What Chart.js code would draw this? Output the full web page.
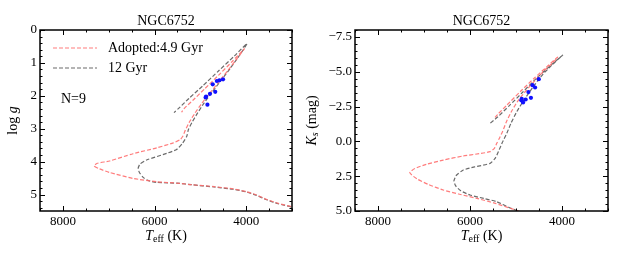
<!DOCTYPE html>
<html>
<head>
<meta charset="utf-8">
<script src="https://cdn.jsdelivr.net/npm/chart.js@4.4.1/dist/chart.umd.min.js"></script>
<style>
    body { margin: 0; background: #fff; width: 623px; height: 260px; position: relative; overflow: hidden; }
    canvas { position: absolute; top: 0; }
</style>
</head>
<body>
<canvas id="loggChart" width="300" height="260" style="left:0"></canvas>
<canvas id="ksChart" width="323" height="260" style="left:300px"></canvas>
<script>
// axis ticks
const teffTicks = [8000, 6000, 4000];
const loggTicks = [0, 1, 2, 3, 4, 5];
const ksTicks = [-7.5, -5.0, -2.5, 0.0, 2.5, 5.0];

// observed giants (N=9)
const starTeff = [4505, 4585, 4640, 4730, 4675, 4790, 4875, 4885, 4846];
const starLogg = [1.50, 1.53, 1.55, 1.65, 1.88, 1.94, 2.02, 2.05, 2.27];
const starKs = [-4.47, -3.87, -4.04, -3.54, -3.13, -3.01, -3.06, -2.95, -2.80];

// adopted 4.9 Gyr isochrone
const youngTeffG = [2900, 3000, 3300, 3550, 3800, 4000, 4280, 4700, 5200, 5450, 5950, 6470, 6980, 7200, 7320, 7250, 6980, 6470, 5950, 5590, 5440, 5380, 5330, 5240, 5120, 4980, 4800, 4600, 4400, 4200, 4040, 4300, 4600, 4900, 5150, 5350, 5410];
const youngLogg = [5.42, 5.37, 5.27, 5.15, 5.00, 4.91, 4.83, 4.76, 4.70, 4.66, 4.61, 4.51, 4.33, 4.22, 4.13, 4.05, 3.98, 3.76, 3.58, 3.43, 3.33, 3.22, 3.05, 2.80, 2.53, 2.25, 1.93, 1.58, 1.23, 0.87, 0.57, 0.95, 1.37, 1.78, 2.12, 2.38, 2.50];
const youngTeffK = [4700, 4947, 5128, 5450, 5854, 6250, 6582, 6900, 7150, 7309, 7200, 6950, 6582, 6150, 5800, 5564, 5470, 5418, 5350, 5287, 5210, 5090, 4950, 4780, 4580, 4380, 4200, 4096, 4300, 4600, 4900, 5200, 5380, 5455];
const youngKs = [5.45, 5.00, 4.80, 4.45, 4.09, 3.78, 3.49, 3.10, 2.70, 2.25, 1.95, 1.65, 1.34, 1.05, 0.88, 0.74, 0.50, 0.14, -0.30, -0.75, -1.40, -2.20, -2.95, -3.65, -4.40, -5.10, -5.65, -6.05, -5.45, -4.55, -3.60, -2.60, -2.00, -1.72];

// 12 Gyr isochrone
const oldTeffG = [2900, 3000, 3300, 3550, 3800, 4000, 4280, 4700, 5200, 5450, 5955, 6150, 6248, 6330, 6357, 6321, 6174, 5736, 5517, 5385, 5297, 5262, 5180, 5060, 4920, 4740, 4540, 4340, 4140, 3985, 4250, 4600, 4950, 5250, 5450, 5575];
const oldLogg = [5.43, 5.38, 5.28, 5.16, 5.01, 4.92, 4.84, 4.77, 4.70, 4.66, 4.63, 4.57, 4.48, 4.33, 4.21, 4.08, 3.95, 3.75, 3.63, 3.43, 3.23, 3.03, 2.80, 2.52, 2.22, 1.88, 1.52, 1.15, 0.76, 0.42, 0.78, 1.24, 1.70, 2.08, 2.35, 2.51];
const oldTeffK = [4750, 4960, 5150, 5418, 5700, 6000, 6200, 6310, 6349, 6300, 6146, 5900, 5564, 5450, 5383, 5300, 5200, 5110, 4980, 4820, 4620, 4420, 4200, 3987, 4250, 4550, 4850, 5150, 5400, 5564];
const oldKs = [5.45, 5.00, 4.75, 4.33, 4.10, 3.85, 3.55, 3.20, 2.85, 2.45, 2.06, 1.83, 1.58, 1.20, 0.74, 0.10, -0.58, -1.30, -2.15, -3.00, -3.95, -4.80, -5.55, -6.19, -5.45, -4.55, -3.55, -2.55, -1.75, -1.29];

const SERIF = '"Liberation Serif", "DejaVu Serif", serif';
const RED = 'rgba(255, 110, 110, 0.9)';
const GREY = 'rgba(90, 90, 90, 0.9)';
const DASH = [4, 2];

const zip = (xs, ys) => xs.map((x, i) => ({ x: x, y: ys[i] }));

function richText(ctx, parts, x, y, align) {
    let w = 0;
    parts.forEach(p => { ctx.font = p[1]; w += ctx.measureText(p[0]).width; });
    let cx = align === 'center' ? x - w / 2 : x;
    parts.forEach(p => {
        ctx.font = p[1];
        ctx.fillText(p[0], cx, y + (p[2] || 0));
        cx += ctx.measureText(p[0]).width;
    });
}

// inward ticks on all four sides, frame, labels and legend
const framePlugin = {
    id: 'frame',
    afterDraw(chart, args, opts) {
        const ctx = chart.ctx;
        const a = chart.chartArea;
        const xs = chart.scales.x, ys = chart.scales.y;
        ctx.save();
        ctx.strokeStyle = '#000';
        ctx.lineWidth = 1;
        ctx.beginPath();
        const tick = (scale, v, len) => {
            const p = Math.round(scale.getPixelForValue(v)) + 0.5;
            if (scale.isHorizontal()) {
                ctx.moveTo(p, a.bottom); ctx.lineTo(p, a.bottom - len);
                ctx.moveTo(p, a.top); ctx.lineTo(p, a.top + len);
            } else {
                ctx.moveTo(a.left, p); ctx.lineTo(a.left + len, p);
                ctx.moveTo(a.right, p); ctx.lineTo(a.right - len, p);
            }
        };
        for (let i = 0; ; i++) {
            const v = xs.min + i * 500;
            if (v > xs.max) break;
            tick(xs, v, teffTicks.includes(v) ? 5 : 2.5);
        }
        const majors = opts.yMajor;
        for (let i = 0; ; i++) {
            const v = +(ys.min + i * opts.yMinor).toFixed(3);
            if (v > ys.max + 1e-9) break;
            tick(ys, v, majors.includes(v) ? 5 : 2.5);
        }
        ctx.stroke();
        ctx.lineWidth = 1.5;
        ctx.strokeRect(a.left, a.top, a.right - a.left, a.bottom - a.top);

        ctx.fillStyle = '#000';
        ctx.textBaseline = 'middle';
        ctx.textAlign = 'left';
        const cx = (a.left + a.right) / 2;
        const f = '14px ' + SERIF;
        const fi = 'italic 14px ' + SERIF;
        richText(ctx, [[opts.title, f]], cx, 21, 'center');
        richText(ctx, [['T', fi], ['eff', '10px ' + SERIF, 3], [' (K)', f]], cx, 236, 'center');

        ctx.save();
        ctx.translate(opts.yTitleX, (a.top + a.bottom) / 2);
        ctx.rotate(-Math.PI / 2);
        richText(ctx, opts.yTitle.map(p => [p[0], (p[1] ? 'italic ' : '') + (p[2] || 14) + 'px ' + SERIF, p[3] || 0]), 0, 0, 'center');
        ctx.restore();

        if (opts.legend) {
            const ds = chart.data.datasets;
            [[1, 48], [2, 68]].forEach(([k, y]) => {
                ctx.strokeStyle = ds[k].borderColor;
                ctx.lineWidth = 1.2;
                ctx.setLineDash(DASH);
                ctx.beginPath();
                ctx.moveTo(a.left + 13, y);
                ctx.lineTo(a.left + 57, y);
                ctx.stroke();
                ctx.setLineDash([]);
                ctx.fillStyle = '#000';
                richText(ctx, [[ds[k].label, f]], a.left + 68, y);
            });
            richText(ctx, [['N=' + starTeff.length, f]], a.left + 21, 99);
        }
        ctx.restore();
    }
};

function makeChart(id, cfg) {
    const datasets = [
        {
            label: 'stars',
            data: zip(starTeff, cfg.stars),
            backgroundColor: '#1010ff',
            borderColor: '#1010ff',
            pointRadius: 2.1,
            borderWidth: 0,
            showLine: false
        },
        {
            label: 'Adopted:4.9 Gyr',
            data: zip(cfg.youngT, cfg.youngY),
            borderColor: RED,
            borderWidth: 1.2,
            borderDash: DASH,
            pointRadius: 0,
            showLine: true,
            tension: 0.2
        },
        {
            label: '12 Gyr',
            data: zip(cfg.oldT, cfg.oldY),
            borderColor: GREY,
            borderWidth: 1.2,
            borderDash: DASH,
            pointRadius: 0,
            showLine: true,
            tension: 0.2
        }
    ];
    const tickFont = { family: SERIF, size: 13 };
    return new Chart(document.getElementById(id), {
        type: 'scatter',
        data: { datasets: datasets },
        options: {
            responsive: false,
            animation: false,
            events: [],
            layout: { padding: { top: 30, right: cfg.padRight, left: 0, bottom: 0 } },
            plugins: {
                legend: { display: false },
                tooltip: { enabled: false },
                frame: cfg.frame
            },
            scales: {
                x: {
                    type: 'linear',
                    min: 3000,
                    max: 8500,
                    reverse: true,
                    grid: { display: false, drawTicks: false },
                    border: { display: false },
                    afterBuildTicks: s => { s.ticks = teffTicks.map(v => ({ value: v })); },
                    afterFit: s => { s.height = 49; },
                    ticks: { font: tickFont, color: '#000', padding: 3, autoSkip: false, maxRotation: 0, callback: v => String(v) }
                },
                y: {
                    type: 'linear',
                    min: cfg.yMin,
                    max: cfg.yMax,
                    reverse: true,
                    grid: { display: false, drawTicks: false },
                    border: { display: false },
                    afterBuildTicks: s => { s.ticks = cfg.yTicks.map(v => ({ value: v })); },
                    afterFit: s => { s.width = cfg.axisLeft; },
                    ticks: { font: tickFont, color: '#000', padding: 3, autoSkip: false, callback: cfg.fmt }
                }
            }
        },
        plugins: [framePlugin]
    });
}

makeChart('loggChart', {
    stars: starLogg,
    youngT: youngTeffG, youngY: youngLogg,
    oldT: oldTeffG, oldY: oldLogg,
    yMin: 0, yMax: 5.5,
    yTicks: loggTicks,
    fmt: v => String(v),
    axisLeft: 40,
    padRight: 8,
    frame: {
        title: 'NGC6752',
        yMajor: loggTicks,
        yMinor: 0.2,
        yTitleX: 13,
        yTitle: [['log ', false], ['g', true]],
        legend: true
    }
});

makeChart('ksChart', {
    stars: starKs,
    youngT: youngTeffK, youngY: youngKs,
    oldT: oldTeffK, oldY: oldKs,
    yMin: -8, yMax: 5,
    yTicks: ksTicks,
    fmt: v => v.toFixed(1).replace('-', '\u2212'),
    axisLeft: 55,
    padRight: 15,
    frame: {
        title: 'NGC6752',
        yMajor: ksTicks,
        yMinor: 0.5,
        yTitleX: 12,
        yTitle: [['K', true], ['s', true, 10, 3], [' (mag)', false]],
        legend: false
    }
});
</script>
</body>
</html>
